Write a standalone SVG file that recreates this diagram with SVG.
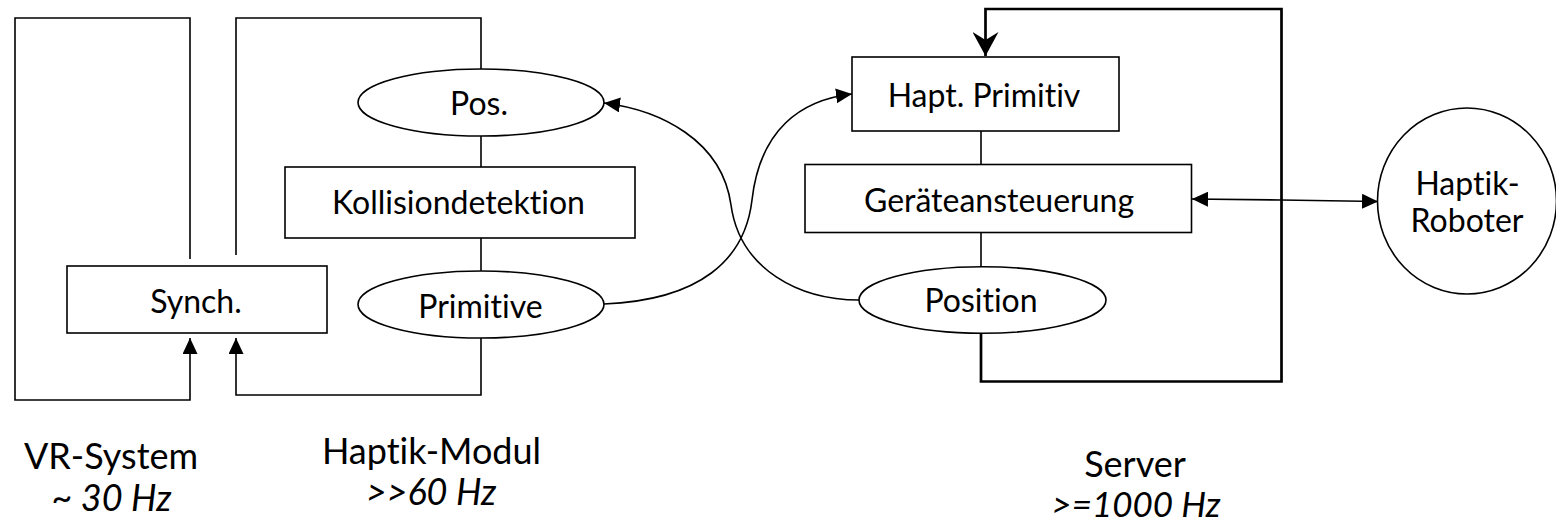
<svg xmlns="http://www.w3.org/2000/svg" width="1556" height="525" viewBox="0 0 1556 525">
<style>
.ln{fill:none;stroke:#000;stroke-width:1.6}
.thick{fill:none;stroke:#000;stroke-width:2.7}
.shape{fill:#fff;stroke:#000;stroke-width:1.6}
text{font-family:"Lato","Noto Sans","Liberation Sans",sans-serif;font-size:32px;fill:#000;text-anchor:middle;font-variant-ligatures:none;font-feature-settings:"liga" 0}
.big{font-size:36px}
.it{font-style:italic}
</style>
<defs>
<marker id="tri" viewBox="0 0 16 15" refX="16" refY="7.5" markerWidth="16" markerHeight="15" markerUnits="userSpaceOnUse" orient="auto-start-reverse">
<path d="M0,0 L16,7.5 L0,15 Z" fill="#000"/>
</marker>
<marker id="stealth" viewBox="0 0 24 26" refX="24" refY="13" markerWidth="24" markerHeight="26" markerUnits="userSpaceOnUse" orient="auto">
<path d="M0,0 L24,13 L0,26 L8,13 Z" fill="#000"/>
</marker>
</defs>
<g id="connectors">
<polyline class="ln" points="190,259 190,18 15,18 15,400 190,400 190,338" marker-end="url(#tri)"/>
<polyline class="ln" points="236,255 236,18 481,18 481,69"/>
<line class="ln" x1="481" y1="136" x2="481" y2="167"/>
<line class="ln" x1="481" y1="238" x2="481" y2="271"/>
<polyline class="ln" points="481,338 481,395 236,395 236,338" marker-end="url(#tri)"/>
<path class="ln" d="M604,304 C700,300 745,260 752,200 C760,130 800,100 852,94" marker-end="url(#tri)"/>
<path class="ln" d="M859,300 C800,300 740,270 731,205 C722,140 660,110 604,103" marker-end="url(#tri)"/>
<line class="ln" x1="981" y1="131" x2="981" y2="164"/>
<line class="ln" x1="981" y1="232" x2="981" y2="267"/>
<polyline class="thick" points="981,333 981,381.5 1281.5,381.5 1281.5,9 985.5,9 985.5,56" marker-end="url(#stealth)"/>
<polyline class="ln" points="1192,199 1281,200 1378,201.5" marker-start="url(#tri)" marker-end="url(#tri)"/>
</g>
<g id="synch"><rect class="shape" x="67" y="266" width="260" height="67"/><text x="196" y="313">Synch.</text></g>
<g id="pos"><ellipse class="shape" cx="481" cy="102.5" rx="123" ry="33.5"/><text x="479" y="115">Pos.</text></g>
<g id="kollision"><rect class="shape" x="285" y="167" width="350" height="71"/><text x="458.5" y="214">Kollisiondetektion</text></g>
<g id="primitive"><ellipse class="shape" cx="481" cy="304.5" rx="123" ry="33.5"/><text x="480.5" y="318">Primitive</text></g>
<g id="hapt-primitiv"><rect class="shape" x="852" y="57" width="267" height="74"/><text x="984" y="106.5">Hapt. Primitiv</text></g>
<g id="geraete"><rect class="shape" x="805" y="164.5" width="386.5" height="68"/><text x="999" y="211.5">Geräteansteuerung</text></g>
<g id="position"><ellipse class="shape" cx="982.5" cy="300" rx="123.5" ry="33.3"/><text x="981" y="311.5">Position</text></g>
<g id="roboter"><ellipse class="shape" cx="1467" cy="201" rx="89.5" ry="93"/><text x="1467.5" y="195">Haptik-</text><text x="1467" y="231.5">Roboter</text></g>
<g id="labels">
<text class="big" x="111" y="468.5">VR-System</text>
<text class="big it" x="111.5" y="510.5">~ 30 Hz</text>
<text class="big" x="431.5" y="463.5">Haptik-Modul</text>
<text class="big it" x="431" y="505">&gt;&gt;60 Hz</text>
<text class="big" x="1135" y="477">Server</text>
<text class="big it" x="1136" y="517" style="font-size:35px">&gt;=1000 Hz</text>
</g>
</svg>
